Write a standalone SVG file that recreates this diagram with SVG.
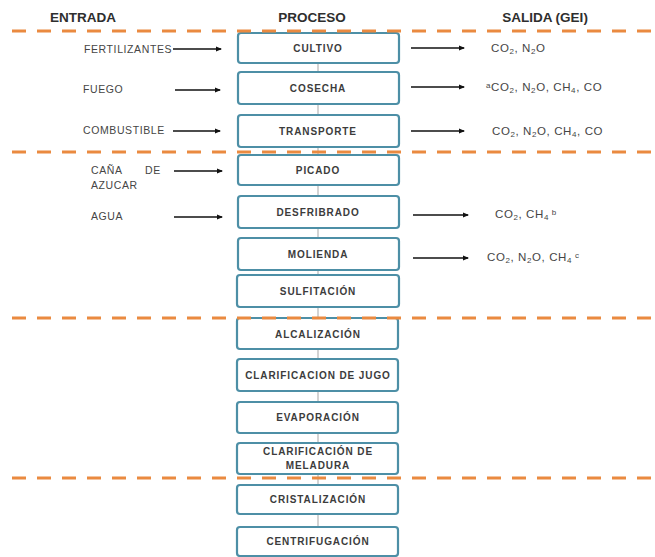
<svg xmlns="http://www.w3.org/2000/svg" width="655" height="557" viewBox="0 0 655 557">
<defs>
<marker id="ah" markerWidth="6" markerHeight="6" refX="5" refY="3" orient="auto" markerUnits="userSpaceOnUse">
<path d="M0,0.5 L6,3 L0,5.5 Z" fill="#111"/>
</marker>
<style>
.box{fill:#fff;stroke:#4d8fa6;stroke-width:2.2}
.bt{font-family:"Liberation Sans",Arial,sans-serif;font-size:10px;font-weight:bold;fill:#3c3c3c;text-anchor:middle;letter-spacing:0.9px}
.hd{font-family:"Liberation Sans",Arial,sans-serif;font-size:13.5px;font-weight:bold;fill:#2e2e2e;text-anchor:middle}
.lt{font-family:"Liberation Sans",Arial,sans-serif;font-size:10.5px;fill:#454545;letter-spacing:0.6px}
.rt{font-family:"Liberation Sans",Arial,sans-serif;font-size:11.5px;fill:#454545;letter-spacing:0.6px}
.sb{font-size:8px}
.ar{stroke:#111;stroke-width:1.4;fill:none;marker-end:url(#ah)}
.vc{stroke:#c4c4c4;stroke-width:1.5}
.dl{stroke:#ea8a40;stroke-width:3.2;stroke-dasharray:14 11;fill:none}
</style>
</defs>
<rect width="655" height="557" fill="#fff"/>

<g id="headers">
<text class="hd" x="83" y="22">ENTRADA</text>
<text class="hd" x="312" y="22">PROCESO</text>
<text class="hd" x="545" y="22">SALIDA (GEI)</text>
</g>

<g id="connectors">
<line class="vc" x1="318" y1="63" x2="318" y2="72"/>
<line class="vc" x1="318" y1="104" x2="318" y2="115"/>
<line class="vc" x1="318" y1="147" x2="318" y2="155"/>
<line class="vc" x1="318" y1="185" x2="318" y2="196"/>
<line class="vc" x1="318" y1="228" x2="318" y2="238"/>
<line class="vc" x1="318" y1="270" x2="318" y2="275"/>
<line class="vc" x1="318" y1="307" x2="318" y2="318"/>
<line class="vc" x1="318" y1="349" x2="318" y2="359"/>
<line class="vc" x1="318" y1="391" x2="318" y2="402"/>
<line class="vc" x1="318" y1="433" x2="318" y2="443"/>
<line class="vc" x1="318" y1="474" x2="318" y2="485"/>
<line class="vc" x1="318" y1="514" x2="318" y2="527"/>
<line class="ar" x1="173" y1="49" x2="221" y2="49"/>
<line class="ar" x1="175" y1="90" x2="220" y2="90"/>
<line class="ar" x1="173" y1="131" x2="220" y2="131"/>
<line class="ar" x1="174" y1="171" x2="222" y2="171"/>
<line class="ar" x1="174" y1="217" x2="222" y2="217"/>
<line class="ar" x1="411" y1="48" x2="464" y2="48"/>
<line class="ar" x1="411" y1="87" x2="464" y2="87"/>
<line class="ar" x1="411" y1="131" x2="464" y2="131"/>
<line class="ar" x1="413" y1="215" x2="468" y2="215"/>
<line class="ar" x1="413" y1="258" x2="468" y2="258"/>
</g>

<g id="inputs">
<text class="lt" x="84" y="53">FERTILIZANTES</text>
<text class="lt" x="83" y="93">FUEGO</text>
<text class="lt" x="83" y="134">COMBUSTIBLE</text>
<text class="lt" x="91" y="174">CAÑA <tspan x="145">DE</tspan></text>
<text class="lt" x="91" y="189">AZUCAR</text>
<text class="lt" x="91" y="220">AGUA</text>
</g>

<g id="outputs">
<text class="rt" x="491" y="52">CO<tspan class="sb" dy="2">2</tspan><tspan dy="-2">, N</tspan><tspan class="sb" dy="2">2</tspan><tspan dy="-2">O</tspan></text>
<text class="rt" x="486" y="91"><tspan class="sb" dy="-3">a</tspan><tspan dy="3">CO</tspan><tspan class="sb" dy="2">2</tspan><tspan dy="-2">, N</tspan><tspan class="sb" dy="2">2</tspan><tspan dy="-2">O, CH</tspan><tspan class="sb" dy="2">4</tspan><tspan dy="-2">, CO</tspan></text>
<text class="rt" x="492" y="135">CO<tspan class="sb" dy="2">2</tspan><tspan dy="-2">, N</tspan><tspan class="sb" dy="2">2</tspan><tspan dy="-2">O, CH</tspan><tspan class="sb" dy="2">4</tspan><tspan dy="-2">, CO</tspan></text>
<text class="rt" x="495" y="218">CO<tspan class="sb" dy="2">2</tspan><tspan dy="-2">, CH</tspan><tspan class="sb" dy="2">4</tspan><tspan class="sb" dy="-5"> b</tspan></text>
<text class="rt" x="487" y="261">CO<tspan class="sb" dy="2">2</tspan><tspan dy="-2">, N</tspan><tspan class="sb" dy="2">2</tspan><tspan dy="-2">O, CH</tspan><tspan class="sb" dy="2">4</tspan><tspan class="sb" dy="-5"> c</tspan></text>
</g>

<g id="n-cultivo"><rect class="box" x="238" y="33" width="161" height="30" rx="3"/><text class="bt" x="318" y="52">CULTIVO</text></g>
<g id="n-cosecha"><rect class="box" x="238" y="72" width="161" height="32" rx="3"/><text class="bt" x="318" y="92">COSECHA</text></g>
<g id="n-transporte"><rect class="box" x="238" y="115" width="161" height="32" rx="3"/><text class="bt" x="318" y="135">TRANSPORTE</text></g>
<g id="n-picado"><rect class="box" x="238" y="155" width="161" height="30" rx="3"/><text class="bt" x="318" y="174">PICADO</text></g>
<g id="n-desfribrado"><rect class="box" x="238" y="196" width="161" height="32" rx="3"/><text class="bt" x="318" y="216">DESFRIBRADO</text></g>
<g id="n-molienda"><rect class="box" x="238" y="238" width="161" height="32" rx="3"/><text class="bt" x="318" y="258">MOLIENDA</text></g>
<g id="n-sulfitacion"><rect class="box" x="237" y="275" width="162" height="32" rx="3"/><text class="bt" x="318" y="295">SULFITACIÓN</text></g>
<g id="n-alcalizacion"><rect class="box" x="237" y="318" width="161" height="31" rx="3"/><text class="bt" x="318" y="338">ALCALIZACIÓN</text></g>
<g id="n-clarif-jugo"><rect class="box" x="237" y="359" width="161" height="32" rx="3"/><text class="bt" x="318" y="379">CLARIFICACION DE JUGO</text></g>
<g id="n-evaporacion"><rect class="box" x="237" y="402" width="161" height="31" rx="3"/><text class="bt" x="318" y="421">EVAPORACIÓN</text></g>
<g id="n-clarif-meladura"><rect class="box" x="237" y="443" width="161" height="31" rx="3"/><text class="bt" x="318" y="455">CLARIFICACIÓN DE</text><text class="bt" x="318" y="469">MELADURA</text></g>
<g id="n-cristalizacion"><rect class="box" x="237" y="485" width="161" height="29" rx="3"/><text class="bt" x="318" y="503">CRISTALIZACIÓN</text></g>
<g id="n-centrifugacion"><rect class="box" x="237" y="527" width="161" height="29" rx="3"/><text class="bt" x="318" y="545">CENTRIFUGACIÓN</text></g>

<g id="dividers">
<line class="dl" x1="12" y1="31" x2="655" y2="31"/>
<line class="dl" x1="12" y1="152" x2="655" y2="152"/>
<line class="dl" x1="12" y1="318" x2="655" y2="318"/>
<line class="dl" x1="12" y1="478" x2="655" y2="478"/>
</g>
</svg>
